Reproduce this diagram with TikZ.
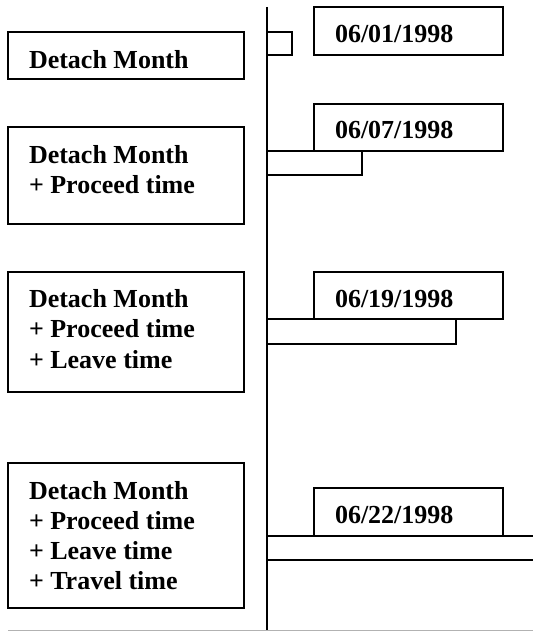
\documentclass[tikz,border=0pt]{standalone}
\usepackage{fontspec}
\setmainfont{Liberation Serif}
\begin{document}
\begin{tikzpicture}[x=1pt,y=-1pt,
  box/.style={draw=black,line width=1.5pt,inner sep=0pt,outer sep=0pt,anchor=north west},
  lbl/.style={inner sep=0pt,outer sep=0pt,anchor=north west,align=left,font=\fontsize{26}{30.3}\selectfont\bfseries},
  datelbl/.style={inner sep=0pt,outer sep=0pt,anchor=base west,font=\fontsize{26}{30}\selectfont\bfseries}]
\useasboundingbox (0,0) rectangle (533,631);
% left boxes
\node[box,minimum width=236pt,minimum height=47pt] (b1) at (8,32) {};
\node[box,minimum width=236pt,minimum height=97pt] (b2) at (8,127) {};
\node[box,minimum width=236pt,minimum height=120pt] (b3) at (8,272) {};
\node[box,minimum width=236pt,minimum height=145pt] (b4) at (8,463) {};
\node[lbl] (t1) at ([shift={(21,14.8)}]b1.north west) {\strut Detach Month};
\node[lbl] (t2) at ([shift={(21,14.8)}]b2.north west) {\strut Detach Month\\+ Proceed time};
\node[lbl] (t3) at ([shift={(21,14.3)}]b3.north west) {\strut Detach Month\\+ Proceed time\\+ Leave time};
\node[lbl] (t4) at ([shift={(21,14.8)}]b4.north west) {\strut Detach Month\\+ Proceed time\\+ Leave time\\+ Travel time};
% date boxes
\node[box,minimum width=189pt,minimum height=48pt] (d1) at (314,7) {};
\node[box,minimum width=189pt,minimum height=47pt] (d2) at (314,104) {};
\node[box,minimum width=189pt,minimum height=47pt] (d3) at (314,272) {};
\node[box,minimum width=189pt,minimum height=48pt] (d4) at (314,488) {};
\node[datelbl] (l1) at ([shift={(21,36)}]d1.north west) {06/01/1998};
\node[datelbl] (l2) at ([shift={(21,34.5)}]d2.north west) {06/07/1998};
\node[datelbl] (l3) at ([shift={(21,35)}]d3.north west) {06/19/1998};
\node[datelbl] (l4) at ([shift={(21,35)}]d4.north west) {06/22/1998};
% bars
\node[box,minimum width=25pt,minimum height=23pt] (bar1) at (267,32) {};
\node[box,minimum width=95pt,minimum height=24pt] (bar2) at (267,151) {};
\node[box,minimum width=189pt,minimum height=25pt] (bar3) at (267,319) {};
\coordinate (bar4a) at (267,536);
\coordinate (bar4b) at (533,536);
\coordinate (bar4c) at (267,560);
\coordinate (bar4d) at (533,560);
\draw[line width=1.5pt] (bar4a) -- (bar4b);
\draw[line width=1.5pt] (bar4c) -- (bar4d);
% axis
\coordinate (top) at (267,7);
\coordinate (bot) at (267,631);
\draw[line width=1.8pt] (top) -- (bot);
% bottom rule
\coordinate (r1) at (8,630);
\coordinate (r2) at (533,630);
\draw[line width=1pt,black!30] (r1) -- (r2);
\end{tikzpicture}
\end{document}
